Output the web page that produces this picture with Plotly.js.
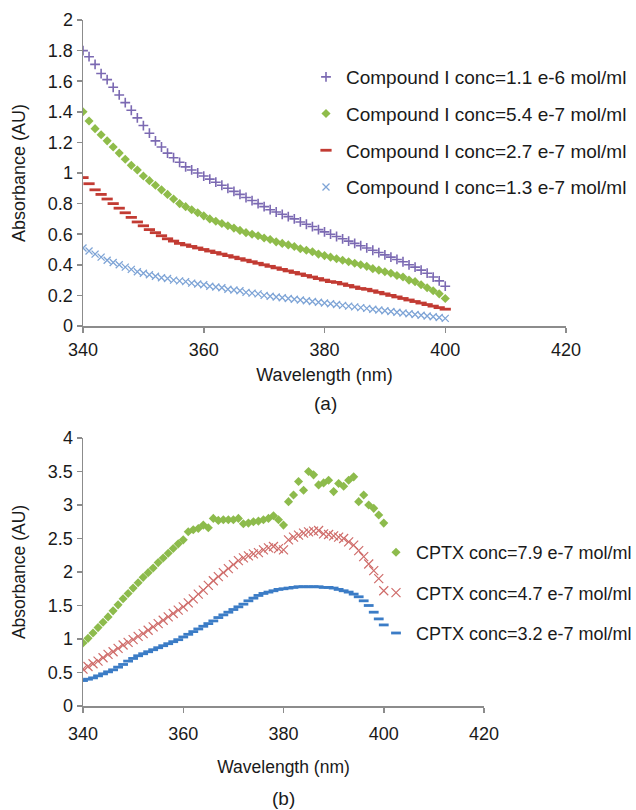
<!DOCTYPE html>
<html>
<head>
<meta charset="utf-8">
<script src="https://cdn.plot.ly/plotly-3.0.1.min.js"></script>
<style>html,body{margin:0;padding:0;background:#fff;}#chart{width:636px;height:810px;}</style>
</head>
<body>
<div id="chart"></div>
<script>
// ---------- data ----------
const wavelengthA = [340,341,342,343,344,345,346,347,348,349,350,351,352,353,354,355,356,357,358,359,360,361,362,363,364,365,366,367,368,369,370,371,372,373,374,375,376,377,378,379,380,381,382,383,384,385,386,387,388,389,390,391,392,393,394,395,396,397,398,399,400];
const wavelengthB = [340,341,342,343,344,345,346,347,348,349,350,351,352,353,354,355,356,357,358,359,360,361,362,363,364,365,366,367,368,369,370,371,372,373,374,375,376,377,378,379,380,381,382,383,384,385,386,387,388,389,390,391,392,393,394,395,396,397,398,399,400];

const compI_11e6 = [1.80,1.76,1.71,1.65,1.61,1.56,1.51,1.46,1.41,1.36,1.31,1.26,1.21,1.17,1.13,1.10,1.07,1.04,1.02,1.00,0.98,0.96,0.94,0.92,0.90,0.88,0.86,0.84,0.82,0.80,0.78,0.76,0.745,0.73,0.715,0.70,0.68,0.665,0.65,0.63,0.615,0.60,0.585,0.57,0.555,0.54,0.525,0.51,0.495,0.48,0.465,0.45,0.435,0.42,0.40,0.385,0.365,0.345,0.32,0.295,0.26];
const compI_54e7 = [1.40,1.34,1.29,1.25,1.21,1.17,1.13,1.09,1.05,1.02,0.98,0.95,0.92,0.89,0.86,0.83,0.80,0.78,0.76,0.74,0.72,0.70,0.685,0.67,0.655,0.64,0.625,0.61,0.60,0.59,0.575,0.565,0.55,0.54,0.53,0.52,0.505,0.495,0.485,0.47,0.46,0.45,0.44,0.43,0.42,0.41,0.40,0.39,0.375,0.365,0.355,0.345,0.33,0.32,0.30,0.29,0.27,0.25,0.23,0.21,0.18];
const compI_27e7 = [0.97,0.93,0.89,0.86,0.83,0.80,0.77,0.74,0.71,0.68,0.655,0.63,0.61,0.59,0.57,0.555,0.54,0.53,0.52,0.51,0.50,0.49,0.48,0.47,0.46,0.45,0.44,0.43,0.42,0.41,0.40,0.39,0.38,0.37,0.36,0.35,0.34,0.33,0.32,0.31,0.30,0.29,0.285,0.275,0.265,0.255,0.245,0.24,0.23,0.22,0.21,0.20,0.19,0.18,0.17,0.16,0.15,0.14,0.13,0.12,0.11];
const compI_13e7 = [0.51,0.49,0.47,0.45,0.43,0.415,0.40,0.385,0.37,0.355,0.345,0.335,0.325,0.315,0.31,0.30,0.295,0.29,0.28,0.275,0.27,0.26,0.255,0.25,0.24,0.235,0.23,0.22,0.215,0.21,0.20,0.195,0.19,0.185,0.18,0.175,0.17,0.165,0.16,0.155,0.15,0.145,0.14,0.135,0.13,0.125,0.12,0.115,0.11,0.105,0.10,0.095,0.09,0.085,0.08,0.075,0.07,0.065,0.06,0.055,0.05];

const cptx_79e7 = [0.94,1.01,1.09,1.17,1.25,1.33,1.42,1.51,1.60,1.68,1.76,1.84,1.92,1.99,2.06,2.14,2.21,2.28,2.35,2.42,2.48,2.60,2.63,2.65,2.70,2.66,2.80,2.77,2.78,2.78,2.78,2.80,2.72,2.73,2.75,2.76,2.78,2.80,2.84,2.78,2.70,3.05,3.15,3.35,3.22,3.50,3.45,3.30,3.33,3.37,3.20,3.32,3.28,3.37,3.42,3.05,3.15,3.00,2.95,2.85,2.73];
const cptx_47e7 = [0.55,0.59,0.63,0.67,0.72,0.77,0.81,0.86,0.91,0.95,0.99,1.04,1.08,1.13,1.18,1.23,1.28,1.33,1.38,1.43,1.48,1.54,1.60,1.67,1.73,1.80,1.87,1.93,1.99,2.05,2.11,2.17,2.21,2.24,2.27,2.29,2.33,2.36,2.38,2.35,2.33,2.48,2.52,2.55,2.58,2.60,2.61,2.62,2.57,2.56,2.54,2.52,2.50,2.45,2.40,2.32,2.23,2.12,2.02,1.90,1.72];
const cptx_32e7 = [0.38,0.40,0.42,0.45,0.48,0.51,0.54,0.58,0.62,0.67,0.71,0.75,0.78,0.81,0.84,0.87,0.90,0.93,0.96,0.99,1.03,1.07,1.11,1.15,1.19,1.23,1.27,1.32,1.36,1.40,1.44,1.48,1.52,1.57,1.61,1.65,1.68,1.70,1.72,1.74,1.75,1.76,1.77,1.78,1.78,1.78,1.78,1.78,1.77,1.77,1.76,1.74,1.72,1.70,1.67,1.63,1.57,1.50,1.40,1.30,1.21];

const namesA = ['Compound I conc=1.1 e-6 mol/ml','Compound I conc=5.4 e-7 mol/ml','Compound I conc=2.7 e-7 mol/ml','Compound I conc=1.3 e-7 mol/ml'];
const namesB = ['CPTX conc=7.9 e-7 mol/ml','CPTX conc=4.7 e-7 mol/ml','CPTX conc=3.2 e-7 mol/ml'];
const xTicks = [340,360,380,400,420];
const xTitle = 'Wavelength (nm)';
const yTitle = 'Absorbance (AU)';
const panelLabels = ['(a)','(b)'];

// ---------- styling ----------
const FONT = 'Liberation Sans, Arial, sans-serif';
const INK = '#1a1a1a';
const W = 636, H = 810;
const px = v => v / W;
const py = v => 1 - v / H;

function thinMarker(symbol, color, size, width) {
  return {symbol: symbol, size: size, color: color, line: {color: color, width: width}};
}

const traces = [
  {x: wavelengthA, y: compI_11e6, name: namesA[0], legend: 'legend', legendgroup: 'a1',
   mode: 'markers', xaxis: 'x', yaxis: 'y', marker: thinMarker('cross-thin', '#7b69b2', 7, 1.6)},
  {x: wavelengthA, y: compI_54e7, name: namesA[1], legend: 'legend', legendgroup: 'a2',
   mode: 'markers', xaxis: 'x', yaxis: 'y', marker: {symbol: 'diamond', size: 7, color: '#8fbc4a'}},
  {x: wavelengthA, y: compI_27e7, name: namesA[2], legend: 'legend', legendgroup: 'a3',
   mode: 'markers', xaxis: 'x', yaxis: 'y', marker: thinMarker('line-ew', '#c23b33', 8, 2.8)},
  {x: wavelengthA, y: compI_13e7, name: namesA[3], legend: 'legend', legendgroup: 'a4',
   mode: 'markers', xaxis: 'x', yaxis: 'y', marker: thinMarker('x-thin', '#7ea4d6', 7, 1.3)},

  {x: wavelengthB, y: cptx_79e7, name: namesB[0], legend: 'legend2', legendgroup: 'b1',
   mode: 'markers', xaxis: 'x2', yaxis: 'y2', marker: {symbol: 'diamond', size: 7, color: '#8dbb4c'}},
  {x: wavelengthB, y: cptx_47e7, name: namesB[1], legend: 'legend2', legendgroup: 'b2',
   mode: 'markers', xaxis: 'x2', yaxis: 'y2', marker: thinMarker('x-thin', '#cf6c6a', 9, 1.2)},
  {x: wavelengthB, y: cptx_32e7, name: namesB[2], legend: 'legend2', legendgroup: 'b3',
   mode: 'markers', xaxis: 'x2', yaxis: 'y2', marker: thinMarker('line-ew', '#3b7cc6', 7, 2.8)}
];

const axisBase = {
  showgrid: false, zeroline: false, showline: true, linecolor: '#8c8c8c', linewidth: 1.5,
  ticks: 'outside', ticklen: 5, tickwidth: 1.5, tickcolor: '#8c8c8c',
  tickfont: {family: FONT, size: 18, color: INK}, fixedrange: true
};

const layout = {
  width: W, height: H,
  paper_bgcolor: '#ffffff', plot_bgcolor: '#ffffff',
  margin: {l: 0, r: 0, t: 0, b: 0, autoexpand: false},
  showlegend: true,
  font: {family: FONT, size: 18, color: INK},
  xaxis: Object.assign({}, axisBase, {
    domain: [px(83), px(566)], anchor: 'y', range: [340, 420], tickvals: xTicks, ticklabelstandoff: 2,
    title: {text: xTitle, font: {family: FONT, size: 18, color: INK}, standoff: 9}
  }),
  yaxis: Object.assign({}, axisBase, {
    domain: [py(326), py(20)], anchor: 'x', range: [0, 2], dtick: 0.2, tick0: 0,
    title: {text: yTitle, font: {family: FONT, size: 18, color: INK}, standoff: 17}
  }),
  xaxis2: Object.assign({}, axisBase, {
    domain: [px(83), px(484)], anchor: 'y2', range: [340, 420], tickvals: xTicks, ticklabelstandoff: 6,
    title: {text: xTitle, font: {family: FONT, size: 17.5, color: INK}, standoff: 17}
  }),
  yaxis2: Object.assign({}, axisBase, {
    domain: [py(706), py(438)], anchor: 'x2', range: [0, 4], dtick: 0.5, tick0: 0,
    title: {text: yTitle, font: {family: FONT, size: 17.5, color: INK}, standoff: 17}
  }),
  legend: {
    x: px(306), xanchor: 'left', y: py(58), yanchor: 'top',
    font: {family: FONT, size: 19, color: INK}, bgcolor: 'rgba(0,0,0,0)',
    traceorder: 'grouped', tracegroupgap: 9, itemwidth: 30
  },
  legend2: {
    x: px(376), xanchor: 'left', y: py(534), yanchor: 'top',
    font: {family: FONT, size: 18, color: INK}, bgcolor: 'rgba(0,0,0,0)',
    traceorder: 'grouped', tracegroupgap: 14, itemwidth: 30
  },
  annotations: [
    {text: panelLabels[0], xref: 'paper', yref: 'paper', x: px(325), y: py(403),
     xanchor: 'center', yanchor: 'middle', showarrow: false, font: {family: FONT, size: 19, color: INK}},
    {text: panelLabels[1], xref: 'paper', yref: 'paper', x: px(283), y: py(798),
     xanchor: 'center', yanchor: 'middle', showarrow: false, font: {family: FONT, size: 19, color: INK}}
  ]
};

Plotly.newPlot('chart', traces, layout, {staticPlot: true, displayModeBar: false});
</script>
</body>
</html>
